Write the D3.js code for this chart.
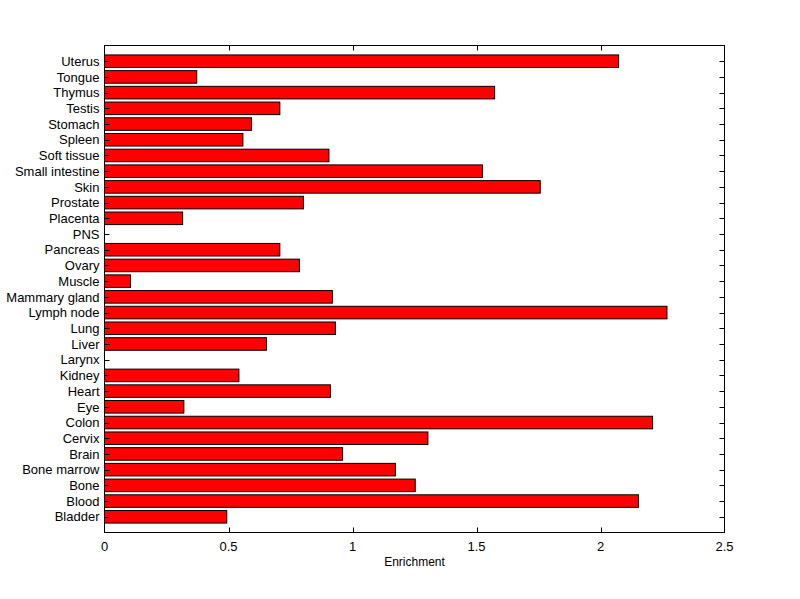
<!DOCTYPE html>
<html>
<head>
<meta charset="utf-8">
<script src="https://cdn.jsdelivr.net/npm/d3@7"></script>
<style>
body { margin: 0; background: #fff; }
svg { display: block; }
text { font-family: Arial, "Liberation Sans", Helvetica, sans-serif; }
</style>
</head>
<body>
<div id="chart"></div>
<script>
// Categories listed bottom to top
const categories = ["Bladder","Blood","Bone","Bone marrow","Brain","Cervix","Colon","Eye","Heart","Kidney","Larynx","Liver","Lung","Lymph node","Mammary gland","Muscle","Ovary","Pancreas","PNS","Placenta","Prostate","Skin","Small intestine","Soft tissue","Spleen","Stomach","Testis","Thymus","Tongue","Uterus"];
const values = [0.493,2.153,1.253,1.173,0.960,1.304,2.210,0.320,0.911,0.542,0,0.653,0.931,2.268,0.919,0.105,0.786,0.707,0,0.315,0.802,1.757,1.524,0.905,0.558,0.593,0.707,1.573,0.372,2.073];
const xTicks = [0,0.5,1,1.5,2,2.5];
const xTickLabels = ["0","0.5","1","1.5","2","2.5"];
const xLabel = "Enrichment";

const W = 800, H = 599;
const mLeft = 104.5, mRight = 724.5, mTop = 45.5, mBottom = 532.5;

const svg = d3.select("#chart").append("svg").attr("width", W).attr("height", H);

const x = d3.scaleLinear().domain([0, 2.5]).range([mLeft, mRight]);
const y = d3.scaleLinear().domain([0, categories.length + 1]).range([mBottom, mTop]);
const barH = Math.abs(y(0.8) - y(0));

// bars
svg.append("g").selectAll("rect").data(categories).join("rect")
  .attr("x", x(0))
  .attr("y", (d, i) => y(i + 1) - barH / 2)
  .attr("width", (d, i) => x(values[i]) - x(0))
  .attr("height", barH)
  .attr("fill", "#ff0000")
  .attr("stroke", "#000")
  .attr("stroke-width", 1);

// frame
svg.append("rect").attr("x", mLeft).attr("y", mTop).attr("width", mRight - mLeft).attr("height", mBottom - mTop)
  .attr("fill", "none").attr("stroke", "#000").attr("stroke-width", 1);

const tickLen = 5;
// y ticks (inward, left and right)
const yt = svg.append("g");
categories.forEach((c, i) => {
  const yy = Math.round(y(i + 1)) + 0.5;
  yt.append("line").attr("x1", mLeft).attr("x2", mLeft + tickLen).attr("y1", yy).attr("y2", yy).attr("stroke", "#000");
  yt.append("line").attr("x1", mRight).attr("x2", mRight - tickLen).attr("y1", yy).attr("y2", yy).attr("stroke", "#000");
  yt.append("text").attr("x", mLeft - 5).attr("y", y(i + 1)).attr("dy", "0.36em")
    .attr("text-anchor", "end").attr("font-size", 13).text(c);
});

// x ticks
const xt = svg.append("g");
xTicks.forEach((t, i) => {
  const xx = Math.round(x(t)) + 0.5;
  if (t > 0 && t < 2.5) {
    xt.append("line").attr("x1", xx).attr("x2", xx).attr("y1", mBottom).attr("y2", mBottom - tickLen).attr("stroke", "#000");
    xt.append("line").attr("x1", xx).attr("x2", xx).attr("y1", mTop).attr("y2", mTop + tickLen).attr("stroke", "#000");
  }
  xt.append("text").attr("x", x(t)).attr("y", mBottom + 18).attr("text-anchor", "middle")
    .attr("font-size", 13).text(xTickLabels[i]);
});

svg.append("text").attr("x", (mLeft + mRight) / 2).attr("y", 566).attr("text-anchor", "middle")
  .attr("font-size", 12).text(xLabel);
</script>
</body>
</html>
